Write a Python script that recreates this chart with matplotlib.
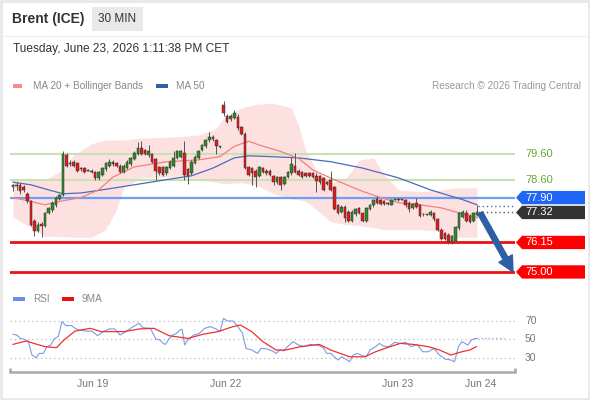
import matplotlib
matplotlib.use("Agg")
import matplotlib.pyplot as plt
import numpy as np
from matplotlib.patches import Polygon, Rectangle
from matplotlib import transforms

plt.rcParams['font.family'] = ['Liberation Sans', 'DejaVu Sans']

# 30 min candles, Brent (ICE)
opens = [78.30, 78.40, 78.38, 78.30, 78.05, 77.75, 77.00, 76.60, 76.88, 76.80,
         77.30, 77.40, 77.62, 77.85, 78.00, 79.55, 79.20, 79.30, 79.25, 79.05,
         79.05, 78.98, 78.95, 78.90, 78.65, 78.80, 79.00, 79.15, 79.30, 79.25,
         79.15, 78.90, 79.05, 79.20, 79.40, 79.60, 79.85, 79.75, 79.55, 79.60,
         79.40, 79.10, 79.10, 78.85, 79.05, 79.15, 79.45, 79.50, 79.65, 79.00,
         78.85, 79.25, 79.45, 79.75, 79.90, 80.15, 80.20, 80.15, 79.88, 81.50,
         81.10, 80.95, 81.00, 81.05, 80.65, 80.40, 79.10, 79.05, 78.95, 78.75,
         79.05, 78.95, 78.95, 78.75, 78.50, 78.70, 78.45, 78.70, 78.85, 79.15,
         78.95, 78.90, 78.85, 78.85, 78.85, 78.75, 78.75, 78.65, 78.50, 78.60,
         78.30, 77.60, 77.35, 77.55, 77.35, 77.00, 77.25, 77.50, 77.30, 77.00,
         77.45, 77.60, 77.85, 77.80, 77.75, 77.68, 77.62, 77.82, 77.80, 77.82,
         77.80, 77.70, 77.50, 77.70, 77.60, 77.25, 77.25, 77.22, 77.30, 77.05,
         76.65, 76.50, 76.45, 76.15, 76.20, 76.70, 77.15, 77.30, 77.20, 77.00,
         77.22]
highs = [78.45, 78.50, 78.48, 78.38, 78.12, 77.80, 77.05, 76.95, 76.95, 77.35,
         77.55, 77.75, 77.95, 78.05, 79.70, 79.65, 79.35, 79.35, 79.30, 79.10,
         79.10, 79.02, 79.00, 78.95, 78.95, 79.10, 79.30, 79.40, 79.35, 79.30,
         79.20, 79.20, 79.35, 79.50, 79.70, 80.05, 80.10, 79.80, 79.95, 79.65,
         79.45, 79.15, 79.15, 79.15, 79.35, 79.70, 79.75, 79.75, 80.10, 79.05,
         79.35, 79.55, 79.75, 80.00, 80.20, 80.45, 80.35, 80.20, 79.90, 81.65,
         81.15, 81.15, 81.30, 81.15, 80.70, 80.45, 79.15, 79.10, 79.00, 79.15,
         79.10, 79.00, 79.00, 78.80, 78.75, 78.75, 78.75, 78.95, 79.50, 79.65,
         79.00, 78.95, 78.90, 78.90, 78.90, 78.85, 78.80, 78.70, 78.55, 78.95,
         78.35, 77.65, 77.60, 77.60, 77.40, 77.40, 77.50, 77.55, 77.35, 77.55,
         77.65, 77.85, 77.95, 77.85, 77.80, 77.72, 77.85, 77.85, 77.90, 77.85,
         77.85, 77.75, 77.70, 77.90, 77.65, 77.30, 77.27, 77.40, 77.35, 77.10,
         76.70, 76.55, 76.50, 76.45, 76.80, 77.35, 77.40, 77.40, 77.25, 77.35,
         77.60]
lows = [78.15, 78.20, 78.05, 78.10, 77.70, 76.80, 76.40, 76.55, 76.35, 76.75,
        77.25, 77.35, 77.55, 77.80, 77.95, 79.10, 79.15, 79.10, 78.90, 78.95,
        78.85, 78.92, 78.85, 78.60, 78.60, 78.75, 78.95, 79.10, 79.15, 79.10,
        78.85, 78.85, 79.00, 79.15, 79.35, 79.55, 79.55, 79.55, 79.50, 79.25,
        78.60, 78.80, 78.75, 78.80, 79.00, 79.10, 79.40, 79.45, 78.60, 78.45,
        78.80, 79.20, 79.40, 79.70, 79.85, 80.05, 80.10, 79.60, 79.85, 81.10,
        80.80, 80.90, 80.95, 80.55, 80.35, 79.00, 78.75, 78.40, 78.30, 78.70,
        78.85, 78.80, 78.75, 78.40, 78.45, 78.20, 78.40, 78.65, 78.80, 78.85,
        78.75, 78.65, 78.70, 78.70, 78.65, 78.10, 78.45, 78.15, 78.40, 78.15,
        77.40, 77.25, 77.30, 76.95, 76.95, 76.95, 77.20, 77.25, 76.95, 76.95,
        77.40, 77.55, 77.65, 77.60, 77.60, 77.60, 77.60, 77.80, 77.75, 77.80,
        77.55, 77.35, 77.45, 77.50, 77.15, 77.20, 77.22, 77.20, 77.00, 76.60,
        76.25, 76.25, 76.10, 76.10, 76.15, 76.65, 77.10, 76.95, 76.90, 76.95,
        77.20]
closes = [78.40, 78.35, 78.15, 78.20, 77.75, 76.85, 76.60, 76.85, 76.80, 77.30,
          77.50, 77.70, 77.90, 78.00, 79.60, 79.15, 79.25, 79.15, 78.95, 79.00,
          78.90, 78.95, 78.90, 78.65, 78.90, 79.05, 79.25, 79.30, 79.20, 79.15,
          78.90, 79.15, 79.30, 79.45, 79.65, 79.85, 79.60, 79.60, 79.70, 79.30,
          78.95, 78.85, 78.80, 79.10, 79.30, 79.45, 79.70, 79.70, 78.80, 78.75,
          79.30, 79.50, 79.70, 79.95, 80.15, 80.25, 80.25, 79.90, 79.88, 81.20,
          80.85, 81.10, 81.20, 80.60, 80.40, 79.05, 78.80, 78.85, 78.70, 79.10,
          78.90, 78.85, 78.80, 78.50, 78.70, 78.40, 78.70, 78.90, 79.20, 78.90,
          78.80, 78.70, 78.75, 78.75, 78.70, 78.55, 78.50, 78.20, 78.45, 78.20,
          77.45, 77.30, 77.55, 77.10, 77.00, 77.35, 77.45, 77.30, 77.00, 77.50,
          77.60, 77.80, 77.70, 77.65, 77.65, 77.65, 77.80, 77.83, 77.85, 77.81,
          77.60, 77.45, 77.65, 77.55, 77.20, 77.25, 77.24, 77.35, 77.05, 76.65,
          76.30, 76.30, 76.15, 76.40, 76.75, 77.30, 77.35, 77.00, 76.95, 77.30,
          77.32]

# moving averages and bollinger bands (read at candle positions)
ma50_x = [0, 5, 10, 14, 19, 24, 34, 43, 50, 56, 62, 66, 72, 80, 89, 98, 108, 117, 126, 130]
ma50 = [78.50, 78.40, 78.20, 78.05, 78.08, 78.18, 78.40, 78.60, 78.75, 79.05,
        79.45, 79.53, 79.50, 79.45, 79.30, 79.05, 78.67, 78.20, 77.82, 77.62]
ma20_x = [0, 5, 9, 13, 19, 24, 28, 34, 43, 52, 58, 62, 66, 69, 75, 80, 84, 89,
          98, 103, 108, 114, 120, 125, 130]
ma20 = [77.90, 77.75, 77.62, 77.75, 77.90, 78.20, 78.70, 79.10, 79.30, 79.37,
        79.50, 79.90, 80.10, 79.95, 79.70, 79.43, 78.98, 78.66, 78.14, 77.90,
        77.70, 77.62, 77.50, 77.30, 77.12]
band_x = [0, 5, 9, 13, 17, 22, 26, 29, 31, 36, 44, 52, 57, 59, 64, 68, 73, 78,
          80, 82, 85, 89, 93, 97, 101, 104, 108, 114, 120, 124, 130]
band_up = [78.60, 78.63, 78.60, 78.90, 79.56, 80.00, 80.15, 80.15, 80.15, 80.22,
           80.26, 80.34, 80.60, 81.00, 81.40, 81.54, 81.58, 81.40, 80.72, 79.75,
           78.98, 78.48, 78.60, 79.37, 79.45, 78.79, 78.20, 78.13, 78.20, 78.28, 78.28]
band_lo = [77.15, 76.73, 76.38, 76.38, 76.35, 76.35, 76.65, 77.43, 78.28, 78.67,
           78.71, 78.59, 78.50, 78.44, 78.48, 78.40, 78.05, 77.85, 77.82, 77.75,
           77.43, 76.96, 76.85, 76.81, 76.73, 76.65, 76.65, 76.65, 76.58, 76.35, 76.35]

# RSI panel
rsi_x = [0.0, 1.1, 2.1, 3.2, 4.3, 5.3, 6.4, 7.4, 8.5, 9.5,
         10.6, 11.6, 12.7, 13.7, 14.8, 16.4, 17.4, 18.5, 20.6, 22.1,
         23.7, 25.3, 26.9, 28.5, 30.0, 31.6, 33.2, 35.3, 36.4, 38.5,
         40.0, 41.1, 42.1, 42.7, 43.7, 44.8, 45.8, 46.7, 47.4, 48.1,
         49.0, 50.6, 52.2, 53.7, 55.3, 56.9, 58.0, 59.0, 60.0, 61.6,
         62.7, 64.3, 65.3, 66.9, 68.5, 69.5, 71.1, 72.7, 73.7, 74.8,
         75.8, 76.9, 78.5, 80.0, 81.6, 83.2, 84.8, 85.8, 86.9, 87.9,
         89.0, 90.0, 91.1, 92.1, 93.2, 94.3, 95.3, 96.4, 98.0, 99.0,
         100.0, 101.6, 102.7, 103.7, 105.3, 106.9, 108.5, 110.0, 111.6, 113.2,
         114.8, 116.4, 117.9, 119.5, 121.1, 122.7, 123.7, 124.8, 125.8, 127.4,
         128.5, 129.5, 130.0]
rsi = [55.5, 54.7, 51, 50, 47.5, 33, 30, 34.7, 34.7, 42,
       43.8, 51, 53, 69.3, 65, 65, 62, 60, 59, 59,
       54, 58.4, 61.3, 61.3, 54.7, 58.4, 62.7, 67.5, 62.7, 62,
       50.4, 49.3, 45.6, 44.5, 50.4, 54.7, 56.5, 60.2, 61, 43.8,
       49.3, 54.7, 56.5, 62, 63.8, 61.3, 58.4, 72.9, 70, 70,
       65.6, 56.5, 40.2, 38.4, 34.7, 40.2, 39.5, 37.3, 34.7, 38.4,
       37.3, 42, 47.5, 43.8, 42, 44.5, 43.8, 43, 40.9, 34.7,
       34.7, 31, 27.5, 31, 28.5, 25.6, 32.9, 34.7, 32.2, 31,
       38.4, 42, 45.6, 42.7, 42, 46.7, 45.6, 46.7, 42, 44.5,
       36.5, 36.5, 40.2, 32.9, 28.5, 27.5, 25.6, 42, 47.5, 43.8,
       49.3, 51, 51]
ma9_x = [0.0, 3.7, 5.8, 9.0, 12.2, 14.3, 17.4, 21.6, 24.8, 31.1, 35.3, 39.5,
         43.7, 49.0, 53.2, 57.4, 61.6, 63.7, 66.9, 70.0, 73.7, 76.4, 80.6, 85.8,
         89.0, 94.3, 98.5, 101.6, 104.8, 108.5, 112.1, 116.4, 119.5, 122.7,
         125.8, 128.0, 129.8]
ma9 = [44.5, 48.2, 45.6, 42, 40.9, 49.3, 59, 62, 58.4, 58.4, 61.3, 62,
       54, 51, 55.5, 58.4, 63.8, 65.6, 58.4, 47.5, 38.4, 38.4, 42, 44.5,
       38.4, 31, 31, 36.5, 40.9, 45.6, 44.5, 42, 38.4, 32.9,
       36.5, 38.4, 42]
rsi_levels = [70, 50, 30]

# key levels on the right
res_levels = [79.60, 78.60]
pivot = 77.90
last_price = 77.32
ma50_last = 77.58
sup_levels = [76.15, 75.00]
target = 75.00

xtick_pos = [22.4, 59.7, 107.9, 130.9]
xtick_lab = ['Jun 19', 'Jun 22', 'Jun 23', 'Jun 24']

W, H = 590, 400


def box(l, t, r, b):
    return [l / W, 1 - b / H, (r - l) / W, (b - t) / H]


fig = plt.figure(figsize=(5.9, 4.0), dpi=100)
fig.patch.set_facecolor('white')

# overlay in pixel coords for header / legend decoration
ov = fig.add_axes([0, 0, 1, 1])
ov.set_xlim(0, W)
ov.set_ylim(H, 0)
ov.axis('off')
ov.add_patch(Rectangle((1, 1), W - 2, H - 2, fill=False, ec='#e8e8e8', lw=2))
ov.plot([2, W - 2], [36, 36], color='#eeeeee', lw=1)
ov.text(12, 19, 'Brent (ICE)', fontsize=10, fontweight='bold', color='#333333', va='center')
ov.add_patch(Rectangle((92, 7), 51, 24, fc='#e9e9e9', ec='none'))
ov.text(117.5, 19, '30 MIN', fontsize=8.5, color='#333333', va='center', ha='center')
ov.text(13, 49, 'Tuesday, June 23, 2026 1:11:38 PM CET', fontsize=8.6, color='#333333', va='center')

ov.add_patch(Rectangle((13, 84), 9, 4, fc='#f88a8a', ec='none'))
ov.text(33, 86, 'MA 20 + Bollinger Bands', fontsize=7.2, color='#888888', va='center')
ov.add_patch(Rectangle((156, 84), 12, 4, fc='#335fa5', ec='none'))
ov.text(176, 86, 'MA 50', fontsize=7.2, color='#888888', va='center')
ov.text(581, 86, 'Research \u00a9 2026 Trading Central', fontsize=7.2, color='#999999',
        va='center', ha='right')

ov.add_patch(Rectangle((13, 297), 12, 4, fc='#6a8fe8', ec='none'))
ov.text(33, 299, 'RSI', fontsize=7.2, color='#888888', va='center')
ov.add_patch(Rectangle((62, 297), 12, 4, fc='#ee1111', ec='none'))
ov.text(82, 299, '9MA', fontsize=7.2, color='#888888', va='center')

# main price panel
ax = fig.add_axes(box(10, 92, 515, 285))
ax.patch.set_alpha(0)
x0, x1 = -0.84, 140.65
ax.set_xlim(x0, x1)
ax.set_ylim(74.49, 82.02)
for s in ax.spines.values():
    s.set_visible(False)
ax.set_xticks([])
ax.set_yticks([])

ax.fill_between(band_x, band_lo, band_up, color='#fde1e1', lw=0, zorder=1)
for lv in res_levels:
    ax.axhline(lv, color='#c8e1b5', lw=1.5, zorder=1.5)
ax.axhline(pivot, color='#6e9ff5', lw=1.6, zorder=1.5)
for lv in sup_levels:
    ax.axhline(lv, color='#ee1111', lw=2, zorder=1.5)

ax.plot(ma50_x, ma50, color='#4a6db5', lw=0.9, zorder=2)
ax.plot(ma20_x, ma20, color='#f47f7f', lw=0.9, zorder=2)

o = np.array(opens)
c = np.array(closes)
idx = np.arange(len(c))
up = c >= o
ax.vlines(idx, lows, highs, color='#555555', lw=0.7, zorder=3)
ax.bar(idx, np.maximum(np.abs(c - o), 0.025), bottom=np.minimum(o, c), width=0.72,
       color=np.where(up, '#2f8a2a', '#e21b1b'), edgecolor='#333333', linewidth=0.35, zorder=4)

ax.hlines(last_price, idx[-1] + 0.4, x1, colors='#555555', linestyles=(0, (1, 2)), lw=1, zorder=3)
ax.hlines(ma50_last, idx[-1] + 0.4, x1, colors='#4a6db5', linestyles=(0, (1, 2)), lw=1, zorder=3)

ax.annotate('', xy=(140.1, target), xytext=(130.9, 77.30), annotation_clip=False,
            arrowprops=dict(arrowstyle='simple,head_length=1.1,head_width=1.1,tail_width=0.38',
                            color='#2d5ea6', mutation_scale=10, shrinkA=0, shrinkB=0), zorder=6)

# right-hand price tags
tr = transforms.blended_transform_factory(ov.transData, ax.transData)
hh = 0.26
for lv in res_levels:
    ax.text(525, lv, f'{lv:.2f}', transform=tr, fontsize=8, color='#67a83a', va='center',
            clip_on=False)
tags = [(pivot, '#1f66f6'), (last_price, '#333333')] + [(lv, '#ff0000') for lv in sup_levels]
for lv, col in tags:
    ax.add_patch(Polygon([(516, lv), (522, lv + hh), (585, lv + hh), (585, lv - hh), (522, lv - hh)],
                         closed=True, fc=col, ec='none', transform=tr, clip_on=False, zorder=5))
    ax.text(525, lv, f'{lv:.2f}', transform=tr, fontsize=8, color='white', va='center',
            clip_on=False, zorder=6)

# RSI panel
ax2 = fig.add_axes(box(10, 305, 515, 372.3))
ax2.patch.set_alpha(0)
ax2.set_xlim(x0, x1)
ax2.set_ylim(14.1, 87.4)
for k in ['top', 'left', 'right']:
    ax2.spines[k].set_visible(False)
ax2.spines['bottom'].set_color('#aaaaaa')
ax2.spines['bottom'].set_linewidth(1.8)
for lv in rsi_levels:
    ax2.axhline(lv, color='#bbbbbb', lw=0.9, ls=(0, (1, 2.5)), zorder=1)
    ax2.text(525, lv, str(lv), transform=transforms.blended_transform_factory(ov.transData, ax2.transData),
             fontsize=7.5, color='#777777', va='center', clip_on=False)
ax2.plot(rsi_x, rsi, color='#7b9ae8', lw=0.8, zorder=3)
ax2.plot(ma9_x, ma9, color='#f03030', lw=0.9, zorder=4)
ax2.hlines(rsi[-1], rsi_x[-1], 137.5, colors='#8fa8ea', linestyles=(0, (1, 2)), lw=0.9)
ax2.set_yticks([])
ax2.set_xticks(xtick_pos)
ax2.set_xticklabels(xtick_lab, fontsize=7.5, color='#777777')
ax2.tick_params(axis='x', length=0, pad=5)
for ex in [0, 1]:
    ax2.plot([ex, ex], [0, 0.07], transform=ax2.transAxes, color='#aaaaaa', lw=1.8,
             clip_on=False, solid_capstyle='butt')

fig.savefig('out.png', dpi=100)
